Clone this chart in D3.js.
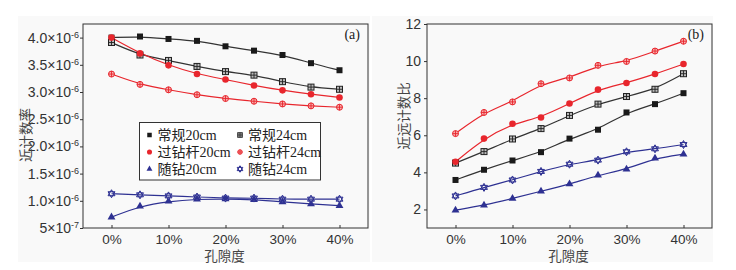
<!DOCTYPE html>
<html>
<head>
<meta charset="utf-8">
<script src="https://cdn.jsdelivr.net/npm/d3@7"></script>
<style>
  body { margin: 0; background: #fff; }
  svg { display: block; font-family: "Liberation Serif", "Noto Sans CJK SC", serif; }
  .frame { fill: none; stroke: #333; stroke-width: 1; }
  .tick text { fill: #333; }
</style>
</head>
<body>
<svg id="chart" width="736" height="270"></svg>
<script>
// porosity values on the x axis (%)
var porosity = [0, 5, 10, 15, 20, 25, 30, 35, 40];
var xTicks = [0, 10, 20, 30, 40];
var seriesNames = ["常规20cm", "常规24cm", "过钻杆20cm", "过钻杆24cm", "随钻20cm", "随钻24cm"];

// (a) near count rate, in units of 1e-6
var rateConv20 = [4.00, 4.02, 3.975, 3.94, 3.84, 3.76, 3.68, 3.53, 3.40];
var rateConv24 = [3.91, 3.68, 3.58, 3.47, 3.375, 3.31, 3.19, 3.09, 3.05];
var ratePipe20 = [4.00, 3.71, 3.49, 3.33, 3.23, 3.12, 3.03, 2.96, 2.90];
var ratePipe24 = [3.33, 3.14, 3.04, 2.95, 2.88, 2.83, 2.78, 2.745, 2.72];
var rateLwd20 = [0.70, 0.90, 0.99, 1.03, 1.035, 1.02, 0.98, 0.94, 0.91];
var rateLwd24 = [1.13, 1.11, 1.09, 1.07, 1.05, 1.05, 1.03, 1.03, 1.03];
var rateTicks = [0.5, 1.0, 1.5, 2.0, 2.5, 3.0, 3.5, 4.0];
var rateTickMant = ["5", "1.0", "1.5", "2.0", "2.5", "3.0", "3.5", "4.0"];
var rateTickExp = ["-7", "-6", "-6", "-6", "-6", "-6", "-6", "-6"];

// (b) near/far count ratio
var ratioConv20 = [3.59, 4.14, 4.64, 5.09, 5.82, 6.30, 7.23, 7.68, 8.27];
var ratioConv24 = [4.50, 5.12, 5.80, 6.36, 7.07, 7.68, 8.09, 8.48, 9.32];
var ratioPipe20 = [4.57, 5.82, 6.62, 6.96, 7.71, 8.46, 8.82, 9.30, 9.84];
var ratioPipe24 = [6.09, 7.23, 7.80, 8.78, 9.09, 9.77, 9.98, 10.54, 11.07];
var ratioLwd20 = [1.96, 2.23, 2.59, 2.98, 3.37, 3.84, 4.17, 4.76, 4.98];
var ratioLwd24 = [2.73, 3.19, 3.59, 4.05, 4.44, 4.66, 5.11, 5.27, 5.50];
var ratioTicks = [2, 4, 6, 8, 10, 12];

var RED = "#e8262d", BLUE = "#2e3192", BLACK = "#1a1a1a";
var styles = [
  { color: BLACK, line: "#333", marker: "sq" },
  { color: BLACK, line: "#333", marker: "sqx" },
  { color: RED, line: RED, marker: "ci" },
  { color: RED, line: RED, marker: "cix" },
  { color: BLUE, line: BLUE, marker: "tri" },
  { color: BLUE, line: BLUE, marker: "star" }
];

var svg = d3.select("#chart");

// faint panel backgrounds as in the scan
svg.append("rect").attr("x", 18).attr("y", 16).attr("width", 352).attr("height", 246).attr("fill", "#f9f9f9");
svg.append("rect").attr("x", 372).attr("y", 16).attr("width", 341).attr("height", 246).attr("fill", "#f9f9f9");

function drawMarker(g, type, color, s) {
  var h = s / 2;
  if (type === "sq") {
    g.append("rect").attr("x", -h).attr("y", -h).attr("width", s).attr("height", s).attr("fill", color);
  } else if (type === "sqx") {
    g.append("rect").attr("x", -h).attr("y", -h).attr("width", s).attr("height", s)
      .attr("fill", "#bbb").attr("stroke", "#222").attr("stroke-width", 1);
    g.append("path").attr("d", "M" + (-h) + ",0H" + h + "M0," + (-h) + "V" + h)
      .attr("stroke", "#222").attr("stroke-width", 0.9);
  } else if (type === "ci") {
    g.append("circle").attr("r", h + 0.3).attr("fill", color);
  } else if (type === "cix") {
    g.append("circle").attr("r", h).attr("fill", "#f7b0b0").attr("stroke", color).attr("stroke-width", 1);
    g.append("path").attr("d", "M" + (-h) + ",0H" + h + "M0," + (-h) + "V" + h)
      .attr("stroke", color).attr("stroke-width", 0.9);
  } else if (type === "tri") {
    g.append("path").attr("d", d3.symbol(d3.symbolTriangle, s * s * 0.75)()).attr("fill", color);
  } else if (type === "star") {
    var r = h + 1;
    var up = "M0," + (-r) + "L" + (r * 0.87) + "," + (r * 0.5) + "L" + (-r * 0.87) + "," + (r * 0.5) + "Z";
    var dn = "M0," + r + "L" + (r * 0.87) + "," + (-r * 0.5) + "L" + (-r * 0.87) + "," + (-r * 0.5) + "Z";
    g.append("path").attr("d", up + dn).attr("fill", "#8a8cc8").attr("stroke", color).attr("stroke-width", 1);
  }
}

function drawPanel(opt) {
  var x = d3.scaleLinear().domain([-5, 45]).range([opt.left, opt.right]);
  var y = d3.scaleLinear().domain(opt.yDomain).range([opt.bottom, opt.top]);
  var g = svg.append("g");

  // x axis, ticks pointing inward
  var xa = g.append("g").attr("transform", "translate(0," + opt.bottom + ")")
    .call(d3.axisBottom(x).tickValues(xTicks).tickSize(-3).tickPadding(6).tickFormat(function (d) { return d + "%"; }));
  xa.select(".domain").remove();
  xa.selectAll("line").attr("stroke", "#333");
  xa.selectAll("text").attr("font-size", 13.5).attr("fill", "#333");

  // y axis, ticks outward
  var ya = g.append("g").attr("transform", "translate(" + opt.left + ",0)")
    .call(d3.axisLeft(y).tickValues(opt.yTicks).tickSize(3).tickPadding(3).tickFormat(""));
  ya.select(".domain").remove();
  ya.selectAll("line").attr("stroke", "#333");
  ya.selectAll(".tick text").each(function (d, i) { opt.tickLabel(d3.select(this), i); });

  g.append("rect").attr("class", "frame")
    .attr("x", opt.left).attr("y", opt.top)
    .attr("width", opt.right - opt.left).attr("height", opt.bottom - opt.top);

  var line = d3.line().x(function (d, i) { return x(porosity[i]); }).y(function (d) { return y(d); })
    .curve(d3.curveBasis);

  opt.series.forEach(function (vals, k) {
    var st = styles[k];
    g.append("path").attr("d", line(vals)).attr("fill", "none")
      .attr("stroke", st.line).attr("stroke-width", 1.2);
  });
  opt.series.forEach(function (vals, k) {
    var st = styles[k];
    vals.forEach(function (v, i) {
      var m = g.append("g").attr("transform", "translate(" + x(porosity[i]) + "," + y(v) + ")");
      drawMarker(m, st.marker, st.color, 6);
    });
  });

  g.append("text").attr("x", opt.right - 8).attr("y", opt.top + 15).attr("text-anchor", "end")
    .attr("font-size", 14).attr("fill", "#222").text(opt.tag);

  g.append("text").attr("x", (opt.left + opt.right) / 2 - 1).attr("y", 261).attr("text-anchor", "middle")
    .attr("font-size", 13.5).attr("fill", "#444").text("孔隙度");

  g.append("text").attr("transform", "translate(" + opt.titleX + "," + opt.titleY + ") rotate(-90)")
    .attr("text-anchor", "middle").attr("font-size", 13.5).attr("fill", "#444").text(opt.yTitle);
  return g;
}

drawPanel({
  left: 83, right: 368, top: 24, bottom: 228,
  yDomain: [0.5, 4.25], yTicks: rateTicks,
  series: [rateConv20, rateConv24, ratePipe20, ratePipe24, rateLwd20, rateLwd24],
  tag: "(a)", yTitle: "近计数率", titleX: 31, titleY: 135,
  tickLabel: function (t, i) {
    t.attr("font-size", 14).attr("fill", "#333").attr("x", -4);
    t.append("tspan").text(rateTickMant[i] + "×10");
    t.append("tspan").attr("font-size", 9).attr("dy", "-0.55em").text(rateTickExp[i]);
  }
});

drawPanel({
  left: 427, right: 712, top: 24, bottom: 228,
  yDomain: [1, 12], yTicks: ratioTicks,
  series: [ratioConv20, ratioConv24, ratioPipe20, ratioPipe24, ratioLwd20, ratioLwd24],
  tag: "(b)", yTitle: "近远计数比", titleX: 409, titleY: 116,
  tickLabel: function (t, i) {
    t.attr("font-size", 14).attr("fill", "#333").text(ratioTicks[i]);
  }
});

// legend of panel (a)
var lg = svg.append("g");
lg.append("rect").attr("x", 139.5).attr("y", 122.5).attr("width", 181).attr("height", 57.5)
  .attr("fill", "#fff").attr("stroke", "#333").attr("stroke-width", 1);
seriesNames.forEach(function (name, k) {
  var col = k % 2, row = Math.floor(k / 2);
  var mx = col === 0 ? 149.5 : 240, my = 135 + row * 17;
  var m = lg.append("g").attr("transform", "translate(" + mx + "," + my + ")");
  drawMarker(m, styles[k].marker, styles[k].color, 4.5);
  lg.append("text").attr("x", mx + 8).attr("y", my + 5).attr("font-size", 14).attr("fill", "#222").text(name);
});
</script>
</body>
</html>
